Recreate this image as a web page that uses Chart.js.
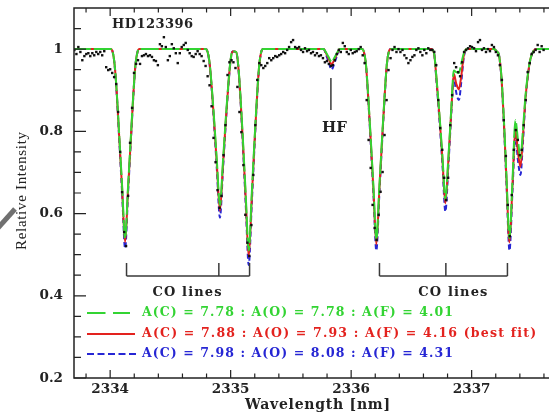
<!DOCTYPE html>
<html>
<head>
<meta charset="utf-8">
<script src="https://cdn.jsdelivr.net/npm/chart.js@4"></script>
<style>
  html, body { margin: 0; padding: 0; background: #fff; width: 549px; height: 413px; overflow: hidden; }
  #wrap { position: relative; width: 560px; height: 413px; }
</style>
</head>
<body>
<div id="wrap"><canvas id="spec" width="560" height="413"></canvas></div>
<script>
// Observed spectrum of HD123396 (wavelength in nm, relative intensity)
const obsWave = [
  2333.703, 2333.720, 2333.736, 2333.753, 2333.769, 2333.786, 2333.802, 2333.819, 2333.835, 2333.852,
  2333.868, 2333.885, 2333.901, 2333.918, 2333.934, 2333.951, 2333.967, 2333.984, 2334.000, 2334.017,
  2334.033, 2334.050, 2334.066, 2334.083, 2334.099, 2334.116, 2334.132, 2334.149, 2334.165, 2334.182,
  2334.198, 2334.215, 2334.231, 2334.248, 2334.264, 2334.281, 2334.297, 2334.314, 2334.330, 2334.347,
  2334.363, 2334.380, 2334.396, 2334.413, 2334.429, 2334.446, 2334.462, 2334.479, 2334.495, 2334.512,
  2334.528, 2334.545, 2334.561, 2334.578, 2334.594, 2334.611, 2334.627, 2334.644, 2334.660, 2334.677,
  2334.693, 2334.710, 2334.726, 2334.743, 2334.759, 2334.776, 2334.792, 2334.809, 2334.825, 2334.842,
  2334.858, 2334.875, 2334.891, 2334.908, 2334.924, 2334.941, 2334.957, 2334.974, 2334.990, 2335.007,
  2335.023, 2335.040, 2335.056, 2335.073, 2335.089, 2335.106, 2335.122, 2335.139, 2335.155, 2335.172,
  2335.188, 2335.205, 2335.221, 2335.238, 2335.254, 2335.271, 2335.287, 2335.304, 2335.320, 2335.337,
  2335.353, 2335.370, 2335.386, 2335.403, 2335.419, 2335.436, 2335.452, 2335.469, 2335.485, 2335.502,
  2335.518, 2335.535, 2335.551, 2335.568, 2335.584, 2335.601, 2335.617, 2335.634, 2335.650, 2335.667,
  2335.683, 2335.700, 2335.716, 2335.733, 2335.749, 2335.766, 2335.782, 2335.799, 2335.815, 2335.832,
  2335.848, 2335.865, 2335.881, 2335.898, 2335.914, 2335.931, 2335.947, 2335.964, 2335.980, 2335.997,
  2336.013, 2336.030, 2336.046, 2336.063, 2336.079, 2336.096, 2336.112, 2336.129, 2336.145, 2336.162,
  2336.178, 2336.195, 2336.211, 2336.228, 2336.244, 2336.261, 2336.277, 2336.294, 2336.310, 2336.327,
  2336.343, 2336.360, 2336.376, 2336.393, 2336.409, 2336.426, 2336.442, 2336.459, 2336.475, 2336.492,
  2336.508, 2336.525, 2336.541, 2336.558, 2336.574, 2336.591, 2336.607, 2336.624, 2336.640, 2336.657,
  2336.673, 2336.690, 2336.706, 2336.723, 2336.739, 2336.756, 2336.772, 2336.789, 2336.805, 2336.822,
  2336.838, 2336.855, 2336.871, 2336.888, 2336.904, 2336.921, 2336.937, 2336.954, 2336.970, 2336.987,
  2337.003, 2337.020, 2337.036, 2337.053, 2337.069, 2337.086, 2337.102, 2337.119, 2337.135, 2337.152,
  2337.168, 2337.185, 2337.201, 2337.218, 2337.234, 2337.251, 2337.267, 2337.284, 2337.300, 2337.317,
  2337.333, 2337.350, 2337.366, 2337.383, 2337.399, 2337.416, 2337.432, 2337.449, 2337.465, 2337.482,
  2337.498, 2337.515, 2337.531, 2337.548, 2337.564, 2337.581, 2337.597
];
const obsFlux = [
  0.998, 0.988, 1.005, 0.993, 0.973, 0.983, 0.988, 0.990, 0.983, 0.990,
  0.985, 0.993, 0.988, 0.993, 0.985, 0.995, 0.956, 0.949, 0.951, 0.942,
  0.932, 0.915, 0.847, 0.750, 0.652, 0.555, 0.521, 0.643, 0.772, 0.857,
  0.942, 0.964, 0.973, 0.964, 0.983, 0.985, 0.988, 0.983, 0.985, 0.981,
  0.973, 0.971, 0.961, 1.012, 1.007, 1.029, 1.005, 0.973, 0.983, 1.012,
  1.002, 0.990, 0.966, 0.990, 1.005, 1.010, 1.015, 0.998, 0.990, 0.983,
  0.981, 0.988, 0.995, 0.988, 0.983, 0.971, 0.959, 0.934, 0.912, 0.861,
  0.784, 0.725, 0.657, 0.614, 0.643, 0.742, 0.815, 0.937, 0.968, 0.973,
  0.968, 0.954, 0.908, 0.847, 0.798, 0.718, 0.597, 0.529, 0.497, 0.572,
  0.694, 0.815, 0.925, 0.966, 0.961, 0.954, 0.959, 0.966, 0.978, 0.973,
  0.978, 0.983, 0.981, 0.985, 0.988, 0.993, 0.990, 0.998, 1.005, 1.017,
  1.022, 1.005, 1.002, 1.005, 0.998, 0.993, 1.002, 0.995, 0.998, 0.990,
  0.993, 0.985, 0.990, 0.983, 0.985, 0.978, 0.968, 0.971, 0.964, 0.959,
  0.961, 0.973, 0.988, 0.998, 0.993, 1.015, 1.007, 0.993, 0.988, 0.998,
  0.990, 0.993, 0.995, 1.000, 1.005, 0.985, 0.966, 0.876, 0.779, 0.711,
  0.621, 0.565, 0.536, 0.597, 0.653, 0.701, 0.791, 0.876, 0.949, 0.978,
  0.998, 1.005, 0.993, 1.000, 0.993, 0.998, 0.985, 0.978, 0.966, 0.973,
  0.981, 0.985, 0.998, 1.002, 0.993, 0.985, 0.998, 0.990, 1.002, 0.998,
  0.998, 0.993, 0.961, 0.876, 0.808, 0.755, 0.687, 0.633, 0.687, 0.815,
  0.888, 0.966, 0.956, 0.944, 0.934, 0.968, 0.993, 0.998, 1.002, 1.007,
  1.005, 1.002, 0.995, 1.017, 1.022, 0.998, 1.002, 0.993, 1.000, 0.995,
  1.010, 1.005, 0.993, 0.985, 0.961, 0.925, 0.827, 0.740, 0.621, 0.545,
  0.645, 0.755, 0.803, 0.779, 0.742, 0.755, 0.815, 0.876, 0.944, 0.966,
  0.988, 0.993, 0.998, 1.010, 0.993, 1.007, 0.998
];

// Synthetic spectra, sampled on a shared wavelength grid
const modelWave = [
  2333.69,
  2334.004, 2334.021, 2334.037, 2334.054, 2334.074, 2334.099, 2334.124, 2334.149, 2334.174, 2334.194, 2334.210, 2334.227, 2334.243,
  2334.792, 2334.808, 2334.824, 2334.841, 2334.862, 2334.886, 2334.911, 2334.936, 2334.960, 2334.981, 2334.998, 2335.014,
  2335.031, 2335.047, 2335.063, 2335.080, 2335.101, 2335.125, 2335.150, 2335.175, 2335.199, 2335.220, 2335.237, 2335.253, 2335.270,
  2335.772, 2335.793, 2335.814, 2335.838, 2335.863, 2335.884, 2335.904,
  2336.090, 2336.106, 2336.123, 2336.139, 2336.160, 2336.185, 2336.209, 2336.234, 2336.259, 2336.280, 2336.296, 2336.312, 2336.329,
  2336.663, 2336.688, 2336.708, 2336.733, 2336.758, 2336.782, 2336.807, 2336.832, 2336.852, 2336.873, 2336.894, 2336.914, 2336.935, 2336.960,
  2337.182, 2337.207, 2337.227, 2337.248, 2337.269, 2337.289, 2337.314, 2337.339, 2337.363, 2337.384, 2337.405, 2337.425, 2337.446, 2337.467, 2337.487, 2337.512, 2337.536,
  2337.75
];
// A(C)=7.78, A(O)=7.78, A(F)=4.01
const fluxLow = [
  1,
  1, 0.993, 0.963, 0.899, 0.798, 0.669, 0.540, 0.669, 0.798, 0.899, 0.963, 0.993, 1,
  1, 0.994, 0.970, 0.916, 0.833, 0.726, 0.620, 0.726, 0.833, 0.916, 0.970, 0.994,
  0.994, 0.993, 0.961, 0.892, 0.784, 0.647, 0.510, 0.647, 0.784, 0.892, 0.961, 0.993, 1,
  1, 0.991, 0.980, 0.969, 0.980, 0.991, 1,
  1, 0.993, 0.963, 0.898, 0.795, 0.665, 0.535, 0.665, 0.795, 0.898, 0.963, 0.993, 1,
  1, 0.990, 0.930, 0.840, 0.737, 0.635, 0.737, 0.860, 0.948, 0.944, 0.942, 0.965, 0.990, 1,
  1, 0.995, 0.985, 0.930, 0.820, 0.690, 0.540, 0.680, 0.827, 0.780, 0.735, 0.800, 0.884, 0.940, 0.975, 0.995, 1,
  1
];
// A(C)=7.88, A(O)=7.93, A(F)=4.16 (best fit)
const fluxBest = [
  1,
  1, 0.993, 0.962, 0.897, 0.793, 0.662, 0.530, 0.662, 0.793, 0.897, 0.962, 0.993, 1,
  1, 0.994, 0.969, 0.914, 0.827, 0.717, 0.607, 0.717, 0.827, 0.914, 0.969, 0.994,
  0.994, 0.992, 0.960, 0.889, 0.778, 0.636, 0.495, 0.636, 0.778, 0.889, 0.960, 0.992, 1,
  1, 0.989, 0.976, 0.963, 0.976, 0.989, 1,
  1, 0.993, 0.962, 0.896, 0.791, 0.658, 0.525, 0.658, 0.791, 0.896, 0.962, 0.993, 1,
  1, 0.990, 0.928, 0.836, 0.730, 0.625, 0.730, 0.855, 0.940, 0.915, 0.902, 0.935, 0.985, 1,
  1, 0.995, 0.985, 0.928, 0.815, 0.683, 0.530, 0.670, 0.808, 0.750, 0.714, 0.785, 0.878, 0.937, 0.975, 0.995, 1,
  1
];
// A(C)=7.98, A(O)=8.08, A(F)=4.31
const fluxHigh = [
  1,
  1, 0.993, 0.961, 0.893, 0.787, 0.651, 0.515, 0.651, 0.787, 0.893, 0.961, 0.993, 1,
  1, 0.994, 0.967, 0.910, 0.820, 0.705, 0.590, 0.705, 0.820, 0.910, 0.967, 0.994,
  0.994, 0.992, 0.958, 0.885, 0.769, 0.622, 0.475, 0.622, 0.769, 0.885, 0.958, 0.992, 1,
  1, 0.985, 0.968, 0.950, 0.968, 0.985, 1,
  1, 0.993, 0.961, 0.892, 0.784, 0.647, 0.510, 0.647, 0.784, 0.892, 0.961, 0.993, 1,
  1, 0.990, 0.922, 0.826, 0.716, 0.605, 0.716, 0.848, 0.930, 0.893, 0.876, 0.920, 0.980, 1,
  1, 0.995, 0.985, 0.925, 0.808, 0.673, 0.510, 0.655, 0.790, 0.730, 0.694, 0.770, 0.872, 0.934, 0.975, 0.995, 1,
  1
];

// Axis ticks and their labels
const xTickValues = [2333.8, 2334.0, 2334.2, 2334.4, 2334.6, 2334.8, 2335.0, 2335.2, 2335.4, 2335.6,
                     2335.8, 2336.0, 2336.2, 2336.4, 2336.6, 2336.8, 2337.0, 2337.2, 2337.4, 2337.6];
const xTickLabels = ['', '2334', '', '', '', '', '2335', '', '', '', '', '2336', '', '', '', '', '2337', '', '', ''];
const yTickValues = [0.2, 0.25, 0.3, 0.35, 0.4, 0.45, 0.5, 0.55, 0.6, 0.65, 0.7, 0.75, 0.8, 0.85, 0.9, 0.95, 1.0, 1.05];
const yTickLabels = ['0.2', '', '', '', '0.4', '', '', '', '0.6', '', '', '', '0.8', '', '', '', '1', ''];

// Line identifications
const coGroupA = [2334.136, 2334.902, 2335.157];
const coGroupB = [2336.235, 2336.786, 2337.297];
const coLabelWave = [2334.638, 2336.844];
const hfWave = 2335.832;

const legendTexts = [
  'A(C) = 7.78 : A(O) = 7.78 : A(F) = 4.01',
  'A(C) = 7.88 : A(O) = 7.93 : A(F) = 4.16 (best fit)',
  'A(C) = 7.98 : A(O) = 8.08 : A(F) = 4.31'
];

const GREEN = '#33d433', RED = '#e3221e', BLUE = '#2626d4', INK = '#222222';
const SERIF_BOLD = '"DejaVu Serif", "Liberation Serif", serif';

const pts = (xs, ys) => xs.map((v, i) => ({ x: v, y: ys[i] }));

// Draw text stretched (via letter spacing) to a given width, starting at x
function fitText(ctx, text, x, y, width, font, color, rotate) {
  ctx.save();
  ctx.font = font;
  ctx.fillStyle = color;
  ctx.textBaseline = 'middle';
  ctx.textAlign = 'left';
  const w0 = ctx.measureText(text).width;
  ctx.translate(x, y);
  if (rotate) ctx.rotate(rotate);
  if ('letterSpacing' in ctx && text.length > 1) {
    ctx.letterSpacing = ((width - w0) / (text.length - 1)).toFixed(3) + 'px';
    ctx.fillText(text, 0, 0);
  } else {
    ctx.scale(width / w0, 1);
    ctx.fillText(text, 0, 0);
  }
  ctx.restore();
}

const decorations = {
  id: 'decorations',
  afterDatasetsDraw(chart) {
    const { ctx, chartArea: a, scales: { x, y } } = chart;
    ctx.save();

    // CO line brackets
    ctx.strokeStyle = '#3a3a3a';
    ctx.lineWidth = 1.5;
    const yt = y.getPixelForValue(0.48), yb = y.getPixelForValue(0.448);
    [coGroupA, coGroupB].forEach(g => {
      ctx.beginPath();
      g.forEach(w => {
        const px = x.getPixelForValue(w);
        ctx.moveTo(px, yt); ctx.lineTo(px, yb);
      });
      ctx.moveTo(x.getPixelForValue(g[0]), yb);
      ctx.lineTo(x.getPixelForValue(g[g.length - 1]), yb);
      ctx.stroke();
    });
    coLabelWave.forEach(w => {
      const cx = x.getPixelForValue(w);
      fitText(ctx, 'CO lines', cx - 34.5, y.getPixelForValue(0.407), 69, 'bold 13px ' + SERIF_BOLD, INK);
    });

    // HF marker
    const hx = x.getPixelForValue(hfWave);
    ctx.beginPath();
    ctx.moveTo(hx, y.getPixelForValue(0.93));
    ctx.lineTo(hx, y.getPixelForValue(0.852));
    ctx.stroke();
    fitText(ctx, 'HF', hx - 9, y.getPixelForValue(0.808), 25, 'bold 15px ' + SERIF_BOLD, INK);

    // Star name
    fitText(ctx, 'HD123396', a.left + 38, a.top + 17, 81, 'bold 13px ' + SERIF_BOLD, INK);

    // Legend
    const rows = [
      { c: GREEN, dash: [18.5, 7.5], x1: 130, w: 311 },
      { c: RED, dash: [], x1: 135, w: 393 },
      { c: BLUE, dash: [7, 3.5], x1: 137, w: 311 }
    ];
    const rowY = [313, 334, 354];
    rows.forEach((r, i) => {
      ctx.save();
      ctx.strokeStyle = r.c;
      ctx.lineWidth = 1.8;
      ctx.setLineDash(r.dash);
      ctx.beginPath();
      ctx.moveTo(a.left + 13, rowY[i]);
      ctx.lineTo(r.x1, rowY[i]);
      ctx.stroke();
      ctx.restore();
      fitText(ctx, legendTexts[i], a.left + 68, rowY[i], r.w, 'bold 12.5px ' + SERIF_BOLD, r.c);
    });
    ctx.restore();
  },
  afterDraw(chart) {
    const { ctx, chartArea: a, scales: { x, y } } = chart;
    ctx.save();
    // frame
    ctx.strokeStyle = INK;
    ctx.lineWidth = 1.5;
    ctx.strokeRect(a.left, a.top, a.right - a.left, a.bottom - a.top);
    // inward tick marks
    ctx.lineWidth = 1.2;
    ctx.beginPath();
    x.ticks.forEach((t, i) => {
      const px = x.getPixelForValue(t.value);
      const len = xTickLabels[i] ? 8 : 4.5;
      ctx.moveTo(px, a.bottom); ctx.lineTo(px, a.bottom - len);
      ctx.moveTo(px, a.top); ctx.lineTo(px, a.top + len);
    });
    y.ticks.forEach((t, i) => {
      const py = y.getPixelForValue(t.value);
      const len = yTickLabels[i] ? 12 : 7;
      ctx.moveTo(a.left, py); ctx.lineTo(a.left + len, py);
    });
    ctx.stroke();

    // axis titles
    fitText(ctx, 'Wavelength [nm]', 245, 405, 145, 'bold 14px ' + SERIF_BOLD, INK);
    fitText(ctx, 'Relative Intensity', 22, 250, 118, '15px "Liberation Serif", "Times New Roman", serif', INK, -Math.PI / 2);

    // grey stroke at the left margin
    ctx.strokeStyle = '#707070';
    ctx.lineWidth = 5;
    ctx.beginPath();
    ctx.moveTo(-2, 228);
    ctx.lineTo(15, 209);
    ctx.stroke();
    ctx.restore();
  }
};

new Chart(document.getElementById('spec'), {
  type: 'scatter',
  data: {
    datasets: [
      {
        label: 'observed',
        data: pts(obsWave, obsFlux),
        showLine: false,
        pointStyle: 'rect',
        pointRadius: 1.7,
        pointBackgroundColor: '#111',
        pointBorderWidth: 0,
        order: 0
      },
      {
        label: legendTexts[0],
        data: pts(modelWave, fluxLow),
        showLine: true,
        borderColor: GREEN,
        borderWidth: 2,
        borderDash: [18, 3],
        pointRadius: 0,
        cubicInterpolationMode: 'monotone',
        order: 1
      },
      {
        label: legendTexts[1],
        data: pts(modelWave, fluxBest),
        showLine: true,
        borderColor: RED,
        borderWidth: 2,
        pointRadius: 0,
        cubicInterpolationMode: 'monotone',
        order: 2
      },
      {
        label: legendTexts[2],
        data: pts(modelWave, fluxHigh),
        showLine: true,
        borderColor: BLUE,
        borderWidth: 2,
        borderDash: [5, 3],
        pointRadius: 0,
        cubicInterpolationMode: 'monotone',
        order: 3
      }
    ]
  },
  options: {
    responsive: false,
    animation: false,
    events: [],
    layout: { padding: { top: 8, right: 0, bottom: 0, left: 0 } },
    plugins: { legend: { display: false }, tooltip: { enabled: false } },
    scales: {
      x: {
        type: 'linear',
        min: 2333.7,
        max: 2337.7,
        afterBuildTicks: s => { s.ticks = xTickValues.map(v => ({ value: v })); },
        afterFit: s => { s.height = 35; s.paddingLeft = 0; s.paddingRight = 0; },
        grid: { display: false, drawTicks: false },
        border: { display: false },
        ticks: {
          autoSkip: false,
          maxRotation: 0,
          padding: 3,
          color: INK,
          font: { family: SERIF_BOLD, size: 13.5, weight: 'bold' },
          callback: (v, i) => xTickLabels[i]
        }
      },
      y: {
        type: 'linear',
        min: 0.2,
        max: 1.1,
        afterBuildTicks: s => { s.ticks = yTickValues.map(v => ({ value: v })); },
        afterFit: s => { s.width = 74; s.paddingTop = 0; s.paddingBottom = 0; },
        grid: { display: false, drawTicks: false },
        border: { display: false },
        ticks: {
          autoSkip: false,
          padding: 11,
          color: INK,
          font: { family: SERIF_BOLD, size: 13.5, weight: 'bold' },
          callback: (v, i) => yTickLabels[i]
        }
      }
    }
  },
  plugins: [decorations]
});
</script>
</body>
</html>
